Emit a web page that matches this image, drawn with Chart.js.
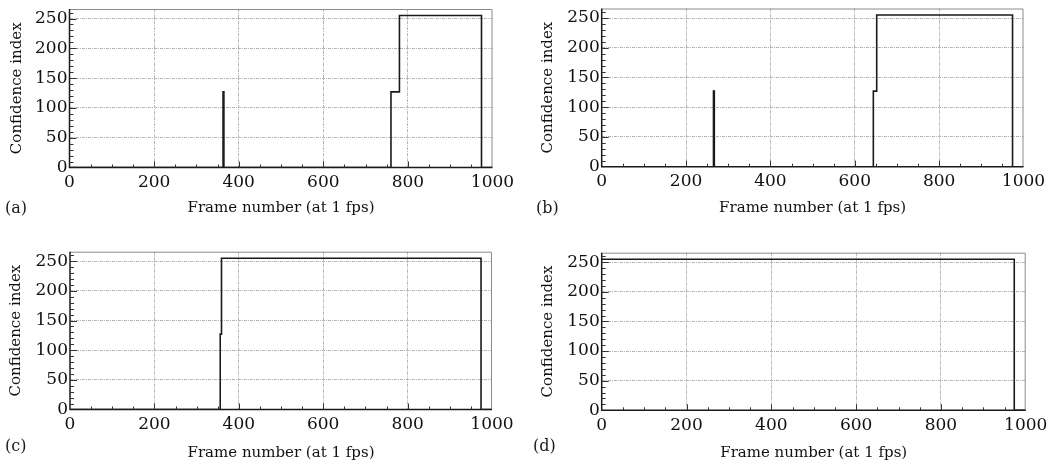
<!DOCTYPE html>
<html><head><meta charset="utf-8">
<script src="https://cdn.jsdelivr.net/npm/chart.js@4.4.1/dist/chart.umd.min.js"></script>
<style>
html,body{margin:0;padding:0;background:#fff;}
body{width:1052px;height:463px;position:relative;overflow:hidden;font-family:"DejaVu Serif",serif;}
.panel{position:absolute;}
.lbl{position:absolute;font-size:16px;line-height:19px;color:#1a1a1a;font-family:"DejaVu Serif",serif;}
</style></head><body>
<div class="panel" id="pa" style="left:0px;top:0px;width:520px;height:225px"><canvas id="ca"></canvas></div>
<div class="panel" id="pb" style="left:530px;top:0px;width:522px;height:225px"><canvas id="cb"></canvas></div>
<div class="panel" id="pc" style="left:0px;top:230px;width:520px;height:233px"><canvas id="cc"></canvas></div>
<div class="panel" id="pd" style="left:530px;top:230px;width:522px;height:233px"><canvas id="cd"></canvas></div>
<div class="lbl" id="la" style="left:5px;top:198px"></div>
<div class="lbl" id="lb" style="left:536px;top:198px"></div>
<div class="lbl" id="lc" style="left:5px;top:436px"></div>
<div class="lbl" id="ld" style="left:533px;top:436px"></div>
<script>
// ---- data ----
const xTickValues = [0, 200, 400, 600, 800, 1000];
const yTickValues = [0, 50, 100, 150, 200, 250];
const xTitle = 'Frame number (at 1 fps)';
const yTitle = 'Confidence index';
const panelLetters = ['(a)', '(b)', '(c)', '(d)'];

const framesA = [0, 363, 365, 760, 780, 974, 1000];
const valuesA = [0, 127, 0, 127, 255, 0, 0];
const framesB = [0, 265, 267, 644, 652, 974, 1000];
const valuesB = [0, 127, 0, 127, 255, 0, 0];
const framesC = [0, 356, 359, 974, 1000];
const valuesC = [0, 127, 255, 0, 0];
const framesD = [0, 973, 1000];
const valuesD = [255, 0, 0];

// ---- layout (positions only) ----
const panels = [
  {id:'ca', letter:'la', frames:framesA, values:valuesA, box:{l:0,t:0,w:520,h:225},   plot:{l:69.5,r:492.5,t:9,b:167.5},    yTitlePad:8,   xTitlePad:7.5},
  {id:'cb', letter:'lb', frames:framesB, values:valuesB, box:{l:530,t:0,w:522,h:225}, plot:{l:601.7,r:1023.5,t:8.5,b:166.7}, yTitlePad:9.3, xTitlePad:7.5},
  {id:'cc', letter:'lc', frames:framesC, values:valuesC, box:{l:0,t:230,w:520,h:233}, plot:{l:70,r:492,t:251.7,b:409.5},     yTitlePad:6.7, xTitlePad:0.5},
  {id:'cd', letter:'ld', frames:framesD, values:valuesD, box:{l:530,t:230,w:522,h:233}, plot:{l:601.7,r:1025.7,t:252.7,b:410.3}, yTitlePad:9.3, xTitlePad:0.5}
];

const FONT = 'DejaVu Serif';

const framePlugin = {
  id: 'frameAndMinor',
  afterDatasetsDraw(chart) {
    const {ctx, chartArea: a, scales: {x, y}} = chart;
    ctx.save();
    ctx.strokeStyle = '#8c8c8c';
    ctx.lineWidth = 1;
    ctx.beginPath();
    ctx.moveTo(a.left, a.top + 0.5); ctx.lineTo(a.right - 0.5, a.top + 0.5); ctx.lineTo(a.right - 0.5, a.bottom);
    ctx.stroke();
    ctx.strokeStyle = '#1a1a1a';
    ctx.lineWidth = 1.5;
    ctx.beginPath();
    ctx.moveTo(a.left, a.top); ctx.lineTo(a.left, a.bottom); ctx.lineTo(a.right, a.bottom);
    ctx.stroke();
    ctx.lineWidth = 1;
    ctx.strokeStyle = '#333';
    ctx.beginPath();
    for (let v = 50; v < x.max; v += 50) {
      const px = Math.round(x.getPixelForValue(v)) + 0.5;
      const len = (v % 200 === 0) ? 6 : 3;
      ctx.moveTo(px, a.bottom); ctx.lineTo(px, a.bottom - len);
    }
    for (let v = 10; v < y.max; v += 10) {
      const py = Math.round(y.getPixelForValue(v)) + 0.5;
      const len = (v % 50 === 0) ? 7 : 4;
      ctx.moveTo(a.left, py); ctx.lineTo(a.left + len, py);
    }
    ctx.stroke();
    ctx.restore();
  }
};

panels.forEach((p, i) => {
  document.getElementById(p.letter).textContent = panelLetters[i];
  const data = p.frames.map((f, k) => ({x: f, y: p.values[k]}));
  const padTop = p.plot.t - p.box.t;
  const padRight = p.box.l + p.box.w - p.plot.r;
  const yWidth = p.plot.l - p.box.l;
  const xHeight = p.box.t + p.box.h - p.plot.b;
  new Chart(document.getElementById(p.id), {
    type: 'line',
    data: {
      datasets: [{
        data: data,
        stepped: 'before',
        borderColor: '#1a1a1a',
        borderWidth: 1.6,
        pointRadius: 0,
        fill: false,
        tension: 0
      }]
    },
    options: {
      responsive: true,
      maintainAspectRatio: false,
      animation: false,
      events: [],
      layout: {padding: {left: 0, top: padTop, right: padRight, bottom: 0}},
      plugins: {legend: {display: false}, tooltip: {enabled: false}},
      scales: {
        x: {
          type: 'linear', min: 0, max: 1000,
          afterBuildTicks: s => { s.ticks = xTickValues.map(v => ({value: v})); },
          afterFit: s => { s.height = xHeight; s.paddingLeft = 0; s.paddingRight = 0; s.paddingTop = 0; s.paddingBottom = 0; },
          ticks: {font: {family: FONT, size: 17}, color: '#111', padding: 5, maxRotation: 0, autoSkip: false, callback: v => String(v)},
          grid: {
            drawTicks: false,
            lineWidth: 1,
            color: c => (c.tick && (c.tick.value === 0 || c.tick.value === 1000)) ? 'rgba(0,0,0,0)' : '#b4b4b4'
          },
          border: {display: false, dash: [3, 1, 1, 1]},
          title: {display: true, text: xTitle, font: {family: FONT, size: 15}, color: '#111', padding: {top: 0, bottom: p.xTitlePad}}
        },
        y: {
          type: 'linear', min: 0, max: 266,
          afterBuildTicks: s => { s.ticks = yTickValues.map(v => ({value: v})); },
          afterFit: s => { s.width = yWidth; s.paddingLeft = 0; s.paddingRight = 0; s.paddingTop = 0; s.paddingBottom = 0; },
          ticks: {font: {family: FONT, size: 17}, color: '#111', padding: 2, autoSkip: false, callback: v => String(v)},
          grid: {
            drawTicks: false,
            lineWidth: 1,
            color: c => (c.tick && c.tick.value === 0) ? 'rgba(0,0,0,0)' : '#b4b4b4'
          },
          border: {display: false, dash: [3, 1, 1, 1]},
          title: {display: true, text: yTitle, font: {family: FONT, size: 15}, color: '#111', padding: {top: p.yTitlePad, bottom: 0}}
        }
      }
    },
    plugins: [framePlugin]
  });
});
</script>
</body></html>
